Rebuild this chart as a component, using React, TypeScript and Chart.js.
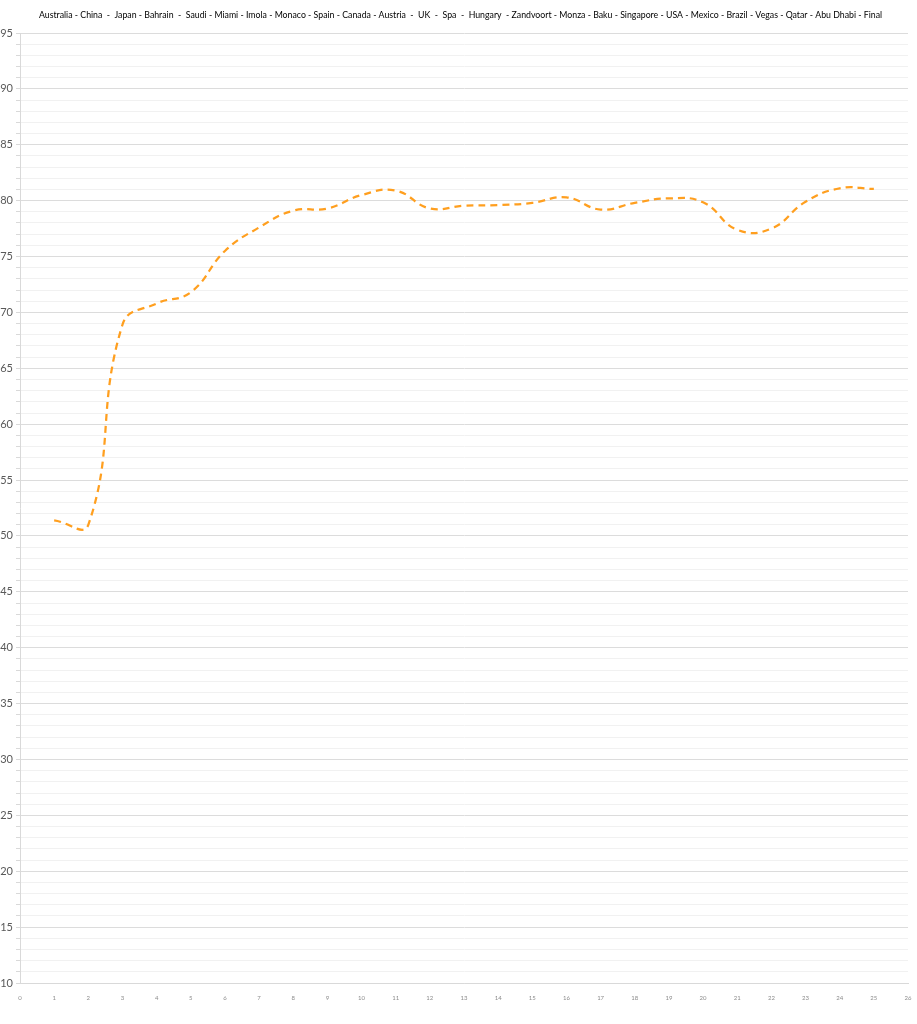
import React, { useEffect, useRef } from "react";
import { Chart, registerables } from "chart.js";

Chart.register(...registerables);

const titleText =
  "Australia - China  -  Japan - Bahrain  -  Saudi - Miami - Imola - Monaco - Spain - Canada - Austria  -  UK  -  Spa  -  Hungary  - Zandvoort - Monza - Baku - Singapore - USA - Mexico - Brazil - Vegas - Qatar - Abu Dhabi - Final";

const raceIndex = [1, 2, 3, 4, 5, 6, 7, 8, 9, 10, 11, 12, 13, 14, 15, 16, 17, 18, 19, 20, 21, 22, 23, 24, 25];
const seriesValues = [
  51.4, 51.0, 68.9, 70.8, 71.8, 75.5, 77.6, 79.1, 79.3, 80.5, 80.9, 79.3, 79.55, 79.6, 79.8, 80.3, 79.2, 79.8, 80.2,
  79.85, 77.4, 77.5, 79.9, 81.1, 81.05,
];

const xMin = 0;
const xMax = 26;
const yMin = 10;
const yMax = 95;

const TITLE_FONT = "Lato";
const TITLE_TARGET_WIDTH = 845;
const TITLE_CENTER_X = 460.5;
const TITLE_CENTER_Y = 15;

const titlePlugin = {
  id: "customTitle",
  afterDraw(chart: any) {
    const ctx = chart.ctx as CanvasRenderingContext2D;
    ctx.save();
    ctx.font = `10px ${TITLE_FONT}`;
    const w = ctx.measureText(titleText).width;
    const size = (10 * TITLE_TARGET_WIDTH) / w;
    ctx.font = `${size}px ${TITLE_FONT}`;
    ctx.fillStyle = "#000000";
    ctx.textAlign = "center";
    ctx.textBaseline = "middle";
    ctx.fillText(titleText, TITLE_CENTER_X, TITLE_CENTER_Y);
    ctx.restore();
  },
};

export default function App() {
  const canvasRef = useRef<HTMLCanvasElement | null>(null);

  useEffect(() => {
    const canvas = canvasRef.current;
    if (!canvas) return;
    const data = raceIndex.map((x, i) => ({ x, y: seriesValues[i] }));
    const chart = new Chart(canvas, {
      type: "line",
      data: {
        datasets: [
          {
            data,
            borderColor: "#FF9F1F",
            borderWidth: 2.25,
            borderDash: [7, 5],
            pointRadius: 0,
            tension: 0.45,
            fill: false,
          },
        ],
      },
      plugins: [titlePlugin],
      options: {
        animation: false,
        responsive: false,
        maintainAspectRatio: false,
        layout: { padding: { left: 0, right: 9, top: 33, bottom: 0 } },
        plugins: {
          legend: { display: false },
          tooltip: { enabled: false },
          title: { display: false },
        },
        scales: {
          x: {
            type: "linear",
            min: xMin,
            max: xMax,
            grid: { display: false },
            border: { display: true, color: "#d9d9d9" },
            ticks: {
              stepSize: 1,
              autoSkip: false,
              maxRotation: 0,
              padding: 3,
              color: "#8c8c8c",
              font: { family: "Lato", size: 6 },
            },
            afterFit: (scale: any) => {
              scale.height = 41;
            },
          },
          y: {
            type: "linear",
            min: yMin,
            max: yMax,
            grid: {
              color: (ctx: any) => (ctx.tick && ctx.tick.value % 5 === 0 ? "#dcdcdc" : "#f1f1f1"),
              tickColor: "#d9d9d9",
              tickLength: 4,
              drawTicks: true,
            },
            border: { display: true, color: "#d9d9d9" },
            ticks: {
              stepSize: 1,
              autoSkip: false,
              padding: 3,
              color: "#595959",
              font: { family: "Lato", size: 11 },
              callback: (v: any) => (Number(v) % 5 === 0 ? String(v) : ""),
            },
            afterFit: (scale: any) => {
              scale.width = 20;
            },
          },
        },
      },
    });
    return () => chart.destroy();
  }, []);

  return (
    <div style={{ position: "fixed", left: 0, top: 0, width: 917, height: 1024, background: "#ffffff" }}>
      <canvas ref={canvasRef} width={917} height={1024} style={{ width: 917, height: 1024, display: "block" }} />
    </div>
  );
}
